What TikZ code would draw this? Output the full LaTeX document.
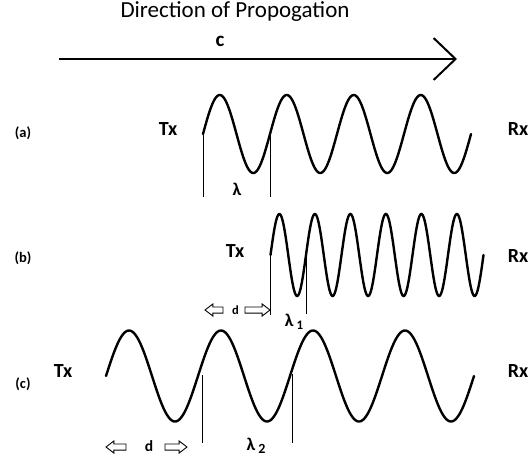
\documentclass[tikz,border=0pt]{standalone}
\usepackage{fontspec}
\setmainfont{Carlito}
\usetikzlibrary{arrows.meta,positioning,shapes.arrows}

\tikzset{
  wave/.style={line width=2.4pt,line cap=round},
  tickline/.style={line width=0.7pt},
  lbl/.style={font=\bfseries\fontsize{20}{22}\selectfont,inner sep=0pt},
  rowlbl/.style={font=\bfseries\fontsize{14.5}{16}\selectfont,inner sep=0pt},
  lam/.style={font=\bfseries\fontsize{18}{20}\selectfont,inner sep=0pt},
  hollow/.style={single arrow,draw,line width=0.9pt,inner sep=2.6pt,
    single arrow head extend=3pt,single arrow tip angle=75,minimum height=#1},
}

\begin{document}
\begin{tikzpicture}[x=1pt,y=-1pt]
  \useasboundingbox (0,0) rectangle (530,461);

  % direction of travel
  \node (title) at (235,12) {\fontsize{23}{26}\selectfont Direction of Propogation};
  \node[font=\bfseries\fontsize{21}{23}\selectfont] (speed) at (220,41) {c};
  \coordinate (cstart) at (59,59);
  \coordinate (cend) at (457,59);
  \draw[line width=2pt,-{Straight Barb[length=22pt,width=42pt,line width=2pt]}] (cstart) -- (cend);

  % row labels
  \foreach \row/\ly/\tx/\ty/\ry in {a/133/168/129/129,b/258/235/251/256,c/384/63/371/371}{
    \node[rowlbl] (lbl\row) at (23,\ly) {(\row)};
    \node[lbl] (tx\row) at (\tx,\ty) {Tx};
    \node[lbl] (rx\row) at (518,\ry) {Rx};
  }

  % the three waves
  \foreach \xs/\per/\cy/\amp/\n in {203/67/134/39/4,270.5/35.5/255/41/6,106/92/376/45.5/4}{
    \draw[wave] plot[domain=\xs:\xs+\n*\per,samples=300] (\x,{\cy-\amp*sin((\x-\xs)/\per*360)});
  }

  % wavelength marks
  \coordinate (a1top) at (203,134); \coordinate (a1bot) at (203,197);
  \coordinate (a2top) at (270,134); \coordinate (a2bot) at (270,197);
  \draw[tickline] (a1top) -- (a1bot);
  \draw[tickline] (a2top) -- (a2bot);
  \node[lam] (lama) at (237,189) {λ};

  \coordinate (b1top) at (270.5,255); \coordinate (b1bot) at (270.5,315);
  \coordinate (b2top) at (306,256); \coordinate (b2bot) at (306,314);
  \draw[tickline] (b1top) -- (b1bot);
  \draw[tickline] (b2top) -- (b2bot);
  \node[lam] (lamb) at (294,322) {λ\,\raisebox{-3pt}{\fontsize{13}{14}\selectfont 1}};

  \coordinate (c1top) at (202,375); \coordinate (c1bot) at (202,443);
  \coordinate (c2top) at (292,374); \coordinate (c2bot) at (292,443);
  \draw[tickline] (c1top) -- (c1bot);
  \draw[tickline] (c2top) -- (c2bot);
  \node[lam] (lamc) at (256,446) {λ\,\raisebox{-3pt}{\fontsize{14}{15}\selectfont 2}};

  % offsets d
  \node[hollow=18pt,shape border rotate=180] (dbl) at (216,310) {};
  \node[font=\bfseries\fontsize{12.5}{14}\selectfont,inner sep=0pt] (db) at (235.5,310) {d};
  \node[hollow=25pt] (dbr) at (255.5,310) {};

  \node[hollow=20pt,shape border rotate=180] (dcl) at (118,447) {};
  \node[font=\bfseries\fontsize{15.5}{17}\selectfont,inner sep=0pt] (dc) at (149,446) {d};
  \node[hollow=22pt] (dcr) at (174,447) {};
\end{tikzpicture}
\end{document}
